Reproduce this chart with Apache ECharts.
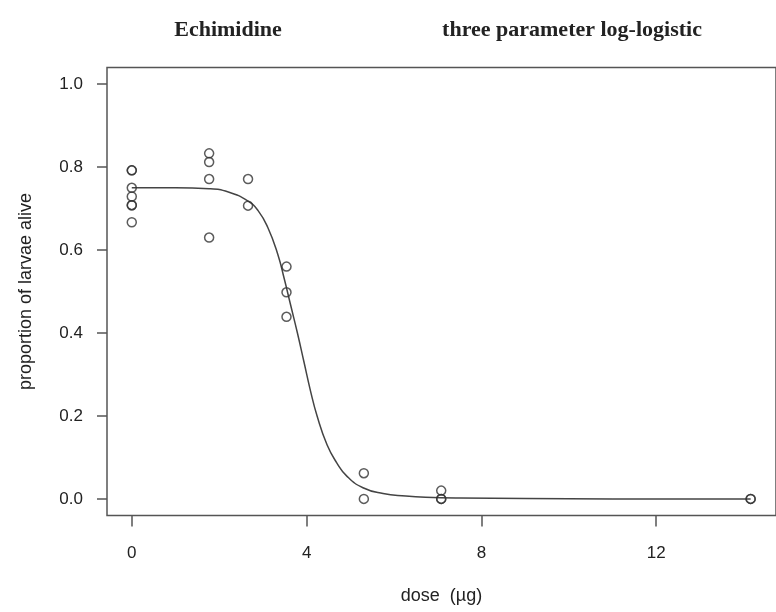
<!DOCTYPE html>
<html>
<head>
<meta charset="utf-8">
<script src="https://cdn.jsdelivr.net/npm/echarts@6/dist/echarts.min.js"></script>
<style>
  html, body { margin: 0; padding: 0; background: #fff; }
  #chart { width: 776px; height: 612px; }
</style>
</head>
<body>
<div id="chart"></div>
<script>
// observed larvae survival, one entry per replicate
const doseObs = [0, 0, 0, 0, 0, 0, 0,
  1.77, 1.77, 1.77, 1.77,
  2.66, 2.66,
  3.54, 3.54, 3.54,
  5.31, 5.31,
  7.08, 7.08, 7.08,
  14.16, 14.16];
const propObs = [0.792, 0.792, 0.75, 0.729, 0.708, 0.708, 0.667,
  0.833, 0.812, 0.771, 0.63,
  0.771, 0.707,
  0.56, 0.498, 0.439,
  0.062, 0,
  0.02, 0, 0,
  0, 0];

// fitted curve
const curveDose = [0, 1.0, 1.77, 2.21, 2.66, 2.89, 3.11, 3.34, 3.49, 3.64, 3.79, 3.94,
  4.09, 4.24, 4.47, 4.69, 4.92, 5.29, 5.75, 6.27, 6.72, 7.5, 9, 11, 14.16];
const curveProp = [0.75, 0.75, 0.748, 0.74, 0.718, 0.695, 0.655, 0.59, 0.53, 0.465, 0.4, 0.33,
  0.26, 0.2, 0.13, 0.087, 0.055, 0.027, 0.013, 0.007, 0.004, 0.002, 0.001, 0, 0];

const xTicks = [0, 4, 8, 12];
const yTicks = [0, 0.2, 0.4, 0.6, 0.8, 1.0];

const ink = '#555';
const textColor = '#222';

const chart = echarts.init(document.getElementById('chart'), null, { renderer: 'canvas' });

const option = {
  animation: false,
  backgroundColor: '#fff',
  title: [
    {
      text: 'Echimidine',
      left: 223, top: 14, textAlign: 'center',
      textStyle: { fontFamily: 'Liberation Serif', fontWeight: 'bold', fontSize: 22, color: textColor },
    },
    {
      text: 'three parameter log-logistic',
      left: 567, top: 14, textAlign: 'center',
      textStyle: { fontFamily: 'Liberation Serif', fontWeight: 'bold', fontSize: 22, color: textColor },
    },
  ],
  grid: {
    left: 107, top: 67.5, right: -9, bottom: 96.5,
    show: true, borderColor: ink, borderWidth: 1.5,
    containLabel: false,
  },
  xAxis: {
    type: 'value',
    min: -0.567, max: 14.74,
    name: 'dose  (\u00b5g)',
    nameLocation: 'middle',
    nameGap: 72,
    nameTextStyle: { fontFamily: 'Liberation Sans', fontSize: 18, color: textColor },
    axisLine: { show: false, onZero: false },
    splitLine: { show: false },
    axisTick: { show: true, length: 11, customValues: xTicks, lineStyle: { color: ink, width: 1.5 } },
    axisLabel: {
      customValues: xTicks, margin: 29,
      fontFamily: 'Liberation Sans', fontSize: 17, color: textColor,
    },
  },
  yAxis: {
    type: 'value',
    min: -0.04, max: 1.04,
    name: 'proportion of larvae alive',
    nameLocation: 'middle',
    nameGap: 72,
    nameTextStyle: { fontFamily: 'Liberation Sans', fontSize: 18, color: textColor },
    axisLine: { show: false, onZero: false },
    splitLine: { show: false },
    axisTick: { show: true, length: 10, customValues: yTicks, lineStyle: { color: ink, width: 1.5 } },
    axisLabel: {
      customValues: yTicks, margin: 24,
      fontFamily: 'Liberation Sans', fontSize: 17, color: textColor,
      formatter: (v) => v.toFixed(1),
    },
  },
  series: [
    {
      type: 'line',
      data: curveDose.map((d, i) => [d, curveProp[i]]),
      showSymbol: false,
      smooth: 0.5,
      lineStyle: { color: '#444', width: 1.5 },
      silent: true,
      z: 2,
    },
    {
      type: 'scatter',
      data: doseObs.map((d, i) => [d, propObs[i]]),
      symbol: 'circle',
      symbolSize: 9,
      itemStyle: { color: 'rgba(0,0,0,0)', borderColor: '#333', borderWidth: 1.5 },
      z: 3,
    },
  ],
};

chart.setOption(option);
</script>
</body>
</html>
